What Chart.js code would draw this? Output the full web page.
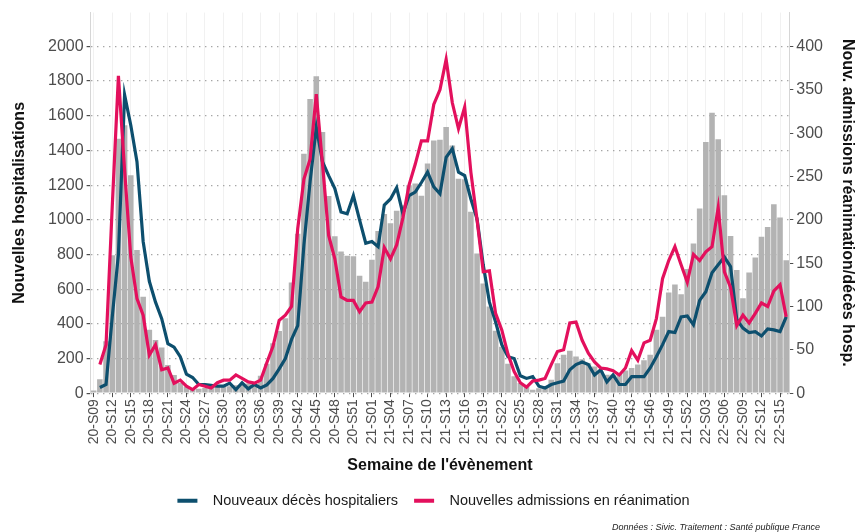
<!DOCTYPE html>
<html>
<head>
<meta charset="utf-8">
<script src="https://cdn.jsdelivr.net/npm/chart.js@4/dist/chart.umd.min.js"></script>
<style>
  html, body { margin: 0; padding: 0; background: #fff; }
</style>
</head>
<body>
<canvas id="chart" width="856" height="532"></canvas>
<script>
// weeks from 2020-S09 to 2022-S16
const weeks = [
  "20-S09","20-S10","20-S11","20-S12","20-S13","20-S14","20-S15","20-S16","20-S17","20-S18",
  "20-S19","20-S20","20-S21","20-S22","20-S23","20-S24","20-S25","20-S26","20-S27","20-S28",
  "20-S29","20-S30","20-S31","20-S32","20-S33","20-S34","20-S35","20-S36","20-S37","20-S38",
  "20-S39","20-S40","20-S41","20-S42","20-S43","20-S44","20-S45","20-S46","20-S47","20-S48",
  "20-S49","20-S50","20-S51","20-S52","20-S53","21-S01","21-S02","21-S03","21-S04","21-S05",
  "21-S06","21-S07","21-S08","21-S09","21-S10","21-S11","21-S12","21-S13","21-S14","21-S15",
  "21-S16","21-S17","21-S18","21-S19","21-S20","21-S21","21-S22","21-S23","21-S24","21-S25",
  "21-S26","21-S27","21-S28","21-S29","21-S30","21-S31","21-S32","21-S33","21-S34","21-S35",
  "21-S36","21-S37","21-S38","21-S39","21-S40","21-S41","21-S42","21-S43","21-S44","21-S45",
  "21-S46","21-S47","21-S48","21-S49","21-S50","21-S51","21-S52","22-S01","22-S02","22-S03",
  "22-S04","22-S05","22-S06","22-S07","22-S08","22-S09","22-S10","22-S11","22-S12","22-S13",
  "22-S14","22-S15","22-S16"
];

// new hospitalisations (left axis)
const hospitalisations = [
  15, 80, 300, 795, 1468, 1545, 1257, 825, 556, 365,
  307, 263, 163, 105, 58, 38, 29, 25, 30, 35,
  40, 45, 40, 45, 50, 55, 65, 100, 170, 288,
  358, 432, 638, 920, 1381, 1696, 1828, 1507, 1137, 905,
  817, 792, 790, 677, 643, 770, 935, 1033, 980, 1052,
  1084, 1199, 1209, 1138, 1324, 1458, 1462, 1535, 1429, 1237,
  1234, 1046, 806, 633, 500, 360, 268, 170, 98, 58,
  38, 20, 29, 38, 77, 173, 221, 244, 211, 196,
  173, 154, 125, 106, 106, 115, 130, 145, 165, 190,
  221, 365, 441, 581, 627, 570, 716, 863, 1065, 1448,
  1617, 1464, 1142, 907, 710, 547, 696, 783, 902, 959,
  1090, 1013, 767
];

// new hospital deaths (right axis)
const deces = [
  null, 6.5, 10, 88, 160, 344, 309, 267, 175, 129,
  105, 86, 57, 53, 42, 22, 18, 10, 10, 9,
  8, 8, 11.5, 4, 12, 5, 10, 6, 9.6, 17,
  28, 40, 62, 78, 171, 244, 307, 267, 251, 236,
  209, 207, 228, 200, 173, 175, 169, 217, 224, 237,
  207, 228, 232, 243, 255, 238, 230, 272, 282, 255,
  251, 224, 201, 148, 105, 82, 56, 42, 40, 20,
  17, 19, 8, 6, 10, 12, 14, 27, 33, 36,
  33, 21, 27, 13, 21, 10, 10, 19, 19, 19,
  29, 42, 56, 71, 70, 88, 89, 79, 107, 117,
  139, 148, 157, 146, 85, 75, 70, 71, 66, 74,
  73, 71, 88
];

// new ICU admissions (right axis)
const reanimation = [
  null, 33, 56, 215, 366, 257, 157, 109, 90, 44,
  56, 27, 29, 11.5, 15, 8, 4, 10, 8, 6,
  12, 15, 15, 21, 17, 13, 11.5, 15, 35, 54,
  84, 90, 100, 190, 247, 270, 345, 265, 182, 155,
  111, 107, 107, 94, 104, 105, 123, 168, 155, 171,
  202, 240, 264, 291, 291, 333, 350, 385, 335, 305,
  330, 255, 200, 140, 141, 92, 73, 45, 25, 12,
  7, 14, 15, 17, 33, 48, 50, 81, 82, 61,
  46, 36, 29, 28, 26, 21, 29, 49, 38, 58,
  61, 86, 132, 153, 169, 148, 128, 160, 153, 163,
  169, 214, 140, 122, 78, 90, 81, 92, 104, 100,
  118, 125, 88
];

const leftTicks = [0, 200, 400, 600, 800, 1000, 1200, 1400, 1600, 1800, 2000];
const rightTicks = [0, 50, 100, 150, 200, 250, 300, 350, 400];

const FONT = "'Liberation Sans', Arial, sans-serif";
const BLUE = "#0d4f6e";
const RED = "#e3105d";
const CAPTION = "Données : Sivic. Traitement : Santé publique France";

// source note, drawn under the legend at the bottom right
const captionPlugin = {
  id: "caption",
  afterDraw: function (chart) {
    const c = chart.ctx;
    c.save();
    c.font = "italic 9px " + FONT;
    c.fillStyle = "#222";
    c.textAlign = "right";
    c.textBaseline = "middle";
    c.fillText(CAPTION, 820, 527);
    c.restore();
  },
};

const ctx = document.getElementById("chart").getContext("2d");
new Chart(ctx, {
  data: {
    labels: weeks,
    datasets: [
      {
        type: "line",
        label: "Nouveaux décès hospitaliers",
        data: deces,
        yAxisID: "y1",
        borderColor: BLUE,
        backgroundColor: BLUE,
        borderWidth: 3.2,
        pointRadius: 0,
        tension: 0,
        order: 1,
      },
      {
        type: "line",
        label: "Nouvelles admissions en réanimation",
        data: reanimation,
        yAxisID: "y1",
        borderColor: RED,
        backgroundColor: RED,
        borderWidth: 3.2,
        pointRadius: 0,
        tension: 0,
        order: 0,
      },
      {
        type: "bar",
        label: "Nouvelles hospitalisations",
        data: hospitalisations,
        yAxisID: "y",
        backgroundColor: "#b3b3b3",
        barPercentage: 0.9,
        categoryPercentage: 1,
        order: 2,
      },
    ],
  },
  options: {
    responsive: false,
    animation: false,
    devicePixelRatio: 1,
    layout: { padding: { top: 10, left: 12, right: 1, bottom: 14 } },
    scales: {
      x: {
        ticks: {
          autoSkip: false,
          maxRotation: 90,
          minRotation: 90,
          padding: 2,
          color: "#4d4d4d",
          font: { family: FONT, size: 14 },
          callback: function (value, index) {
            return index % 3 === 0 ? weeks[index] : null;
          },
        },
        grid: {
          offset: false,
          color: "#f1f1f1",
          tickColor: "#4d4d4d",
          tickLength: 4,
        },
        border: { display: false },
        title: {
          display: true,
          text: "Semaine de l'évènement",
          color: "#111",
          font: { family: FONT, size: 16, weight: "bold" },
          padding: { top: 10, bottom: 2 },
        },
      },
      y: {
        position: "left",
        min: 0,
        max: 2195,
        afterBuildTicks: function (axis) {
          axis.ticks = leftTicks.map(function (v) { return { value: v }; });
        },
        ticks: {
          color: "#4d4d4d",
          padding: 3,
          font: { family: FONT, size: 16 },
          callback: function (value) { return String(value); },
        },
        grid: {
          color: "#a6a6a6",
          lineWidth: 1.2,
          tickColor: "#4d4d4d",
          tickLength: 4,
        },
        border: { display: true, color: "#d6d6d6", dash: [1.4, 4.6] },
        title: {
          display: true,
          text: "Nouvelles hospitalisations",
          color: "#111",
          font: { family: FONT, size: 16, weight: "bold", lineHeight: 1 },
          padding: { top: 0, bottom: 17 },
        },
      },
      y1: {
        position: "right",
        min: 0,
        max: 439,
        afterBuildTicks: function (axis) {
          axis.ticks = rightTicks.map(function (v) { return { value: v }; });
        },
        ticks: {
          color: "#4d4d4d",
          padding: 3,
          font: { family: FONT, size: 16 },
          callback: function (value) { return String(value); },
        },
        grid: {
          drawOnChartArea: false,
          tickColor: "#4d4d4d",
          tickLength: 4,
        },
        border: { display: true, color: "#d6d6d6" },
        title: {
          display: true,
          text: "Nouv. admissions réanimation/décès hosp.",
          color: "#111",
          font: { family: FONT, size: 16, weight: "bold", lineHeight: 1 },
          padding: { top: 0, bottom: 13 },
        },
      },
    },
    plugins: {
      legend: {
        position: "bottom",
        labels: {
          color: "#1a1a1a",
          font: { family: FONT, size: 14.5 },
          usePointStyle: true,
          pointStyle: "line",
          pointStyleWidth: 20,
          boxHeight: 4,
          padding: 16,
          generateLabels: function (chart) {
            const items = Chart.defaults.plugins.legend.labels.generateLabels(chart);
            return items
              .filter(function (item) { return item.datasetIndex !== 2; })
              .sort(function (a, b) { return a.datasetIndex - b.datasetIndex; })
              .map(function (item) {
                item.text = "  " + item.text;
                item.lineWidth = 4;
                return item;
              });
          },
        },
      },
      tooltip: { enabled: false },
    },
  },
  plugins: [captionPlugin],
});
</script>
</body>
</html>
